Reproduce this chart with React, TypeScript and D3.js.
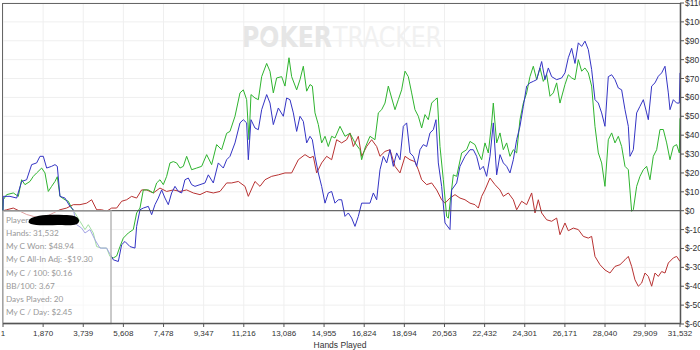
import React from 'react';
import * as d3 from 'd3';

const handTicks = [1, 1870, 3739, 5608, 7478, 9347, 11216, 13086, 14955, 16824, 18694, 20563, 22432, 24301, 26171, 28040, 29909, 31532];
const dollarTicks = [-60, -50, -40, -30, -20, -10, 0, 10, 20, 30, 40, 50, 60, 70, 80, 90, 100, 110];

// green: My C Won
const wonSeries: [number, number][] = [
  [1, 0], [15, 5.8], [171, 8.5], [481, 9.4], [714, 7.6], [869, 16.4], [1024, 13.8], [1257, 15.5], [1413, 18.2], [1568, 20],
  [1801, 22.6], [1956, 20], [2111, 10.2], [2266, 12.9], [2422, 15.5], [2530, 18], [2655, 7.6], [2887, 5.8], [3043, 5], [3198, 1.4],
  [3353, -1.2], [3586, -5.6], [3819, -10], [3974, -7.4], [4207, -11.8], [4362, -19], [4595, -19.8], [4828, -19.8], [4983, -24.2], [5139, -25],
  [5294, -24], [5449, -19], [5604, -14.5], [5837, -11.8], [6070, -10], [6225, -1.2], [6381, 1.4], [6536, 11], [6769, 11], [7002, 9.4],
  [7157, 14.7], [7312, 16.4], [7467, 13.8], [7623, 18.2], [7778, 25.3], [7933, 26], [8088, 25.3], [8244, 22.6], [8399, 23.5], [8554, 28.8],
  [8787, 21.7], [9020, 22.6], [9253, 23.5], [9486, 29.7], [9718, 24.4], [9951, 35], [10184, 32.3], [10417, 41], [10573, 42], [10806, 50],
  [11039, 62.4], [11194, 64], [11349, 58.8], [11458, 37.6], [11551, 61.5], [11737, 59.7], [11893, 58.8], [12048, 71], [12281, 78], [12436, 73.8],
  [12591, 62.4], [12746, 70.3], [12979, 71], [13135, 66], [13321, 81], [13445, 71], [13678, 64], [13833, 69.4], [13988, 76.5], [14144, 63.3],
  [14299, 66.8], [14408, 66], [14532, 51.8], [14687, 45.6], [14842, 35.9], [14998, 39.4], [15153, 34], [15308, 39.4], [15463, 38.5], [15696, 44.7],
  [15929, 39.4], [16162, 41], [16395, 35.9], [16628, 32.3], [16705, 27], [16861, 33.2], [17093, 39.4], [17326, 37.6], [17482, 51.8], [17637, 53.5],
  [17792, 57], [17947, 66], [18103, 59.7], [18258, 53.5], [18413, 58.8], [18568, 64], [18724, 73.9], [18879, 71], [19034, 62.4], [19189, 53.5],
  [19345, 50], [19500, 43.8], [19655, 50.9], [19810, 48.2], [19966, 57], [20121, 58.8], [20229, 59.7], [20354, 34], [20509, 16.4], [20664, -3],
  [20742, -4], [20974, 19], [21130, 18.2], [21362, 30.6], [21595, 32.3], [21751, 36.7], [21983, 35], [22139, 30.6], [22294, 27], [22449, 35.9],
  [22604, 30.6], [22760, 46.5], [22837, 57], [22993, 35.9], [23148, 41.2], [23303, 32.3], [23458, 35.9], [23614, 28.8], [23769, 32.3], [23924, 30.6],
  [24079, 48.2], [24235, 57], [24390, 62.4], [24545, 71], [24700, 76.5], [24856, 69.4], [25011, 75.6], [25166, 68.5], [25321, 72.1], [25477, 60.6],
  [25632, 62.4], [25787, 67.7], [25942, 57], [26175, 66.8], [26330, 72], [26486, 70.3], [26641, 69.4], [26796, 80], [26951, 73.9], [27107, 75.6],
  [27262, 73], [27417, 66], [27572, 44.7], [27728, 30.6], [27883, 25.3], [28038, 12.9], [28193, 37.6], [28349, 41.2], [28504, 35.9], [28659, 39.4],
  [28814, 34], [28970, 23.5], [29125, 21.7], [29280, -0.3], [29358, 0.5], [29513, 12.9], [29668, 18.2], [29824, 21.7], [29979, 23.5], [30134, 16.4],
  [30289, 28.8], [30445, 32.3], [30600, 43], [30755, 43], [30911, 35.9], [31066, 27], [31221, 34], [31376, 35], [31500, 30.6], [31532, 48.94],
];

// blue
const netSeries: [number, number][] = [
  [1, 0], [15, 7.6], [326, 7.6], [636, 6.7], [869, 15.5], [1102, 16.4], [1335, 24.4], [1568, 25.3], [1723, 28.8], [1878, 28.8],
  [2034, 22.6], [2266, 23.5], [2422, 24.4], [2530, 23.5], [2655, 7.6], [2887, 6.7], [3120, 2.3], [3276, 0.5], [3431, -7.4], [3664, -9.2],
  [3819, -11.8], [4052, -10], [4285, -15.4], [4518, -19.8], [4828, -19.8], [5139, -26], [5372, -26.9], [5527, -18], [5682, -16.3], [5915, -19],
  [6148, -19.8], [6225, -8.3], [6381, 0.5], [6536, 1.4], [6769, 2.3], [6924, -2.1], [7079, 3.2], [7234, 6.7], [7390, 11], [7545, 6.7],
  [7700, 3.2], [7855, 9.4], [8011, 12.9], [8166, 10.2], [8321, 9.4], [8476, 16.4], [8632, 17.3], [8787, 13.8], [8942, 12.9], [9175, 13.8],
  [9408, 14.7], [9563, 19], [9796, 14.7], [10029, 25.3], [10262, 22.6], [10417, 27], [10573, 28.8], [10806, 35.9], [11039, 46.5], [11194, 48.2],
  [11349, 46.5], [11427, 27], [11551, 48.2], [11737, 43.8], [11893, 42.9], [12048, 53.5], [12281, 61.5], [12436, 57], [12591, 45.6], [12824, 54.4],
  [13057, 50], [13212, 59.7], [13367, 58.8], [13523, 51.8], [13678, 42], [13833, 50], [13988, 47.3], [14144, 35.9], [14299, 39.4], [14408, 37.6],
  [14532, 28.8], [14687, 20], [14842, 12.9], [14998, 4], [15153, 9.4], [15308, 10.2], [15463, 4], [15619, 5.8], [15774, 5.8], [15929, -3],
  [16084, -1.2], [16240, -3.9], [16395, -8.3], [16550, -3], [16705, 4], [16861, 4], [17093, 4], [17249, 9.4], [17404, 5.8], [17559, 21.7],
  [17714, 28.8], [17870, 25.3], [18025, 32.3], [18180, 23.5], [18335, 30.6], [18491, 27], [18646, 44.7], [18801, 46.5], [18956, 30.6], [19112, 28.8],
  [19267, 23.5], [19422, 32.3], [19577, 35], [19733, 34], [19888, 41.2], [20043, 42.9], [20167, 48.2], [20276, 25.3], [20431, 12.9], [20587, -6.5],
  [20819, -10], [20897, 11], [21130, 14.7], [21285, 23.5], [21518, 28.8], [21751, 32.3], [21906, 32.3], [22061, 28.8], [22216, 21.7], [22372, 23.5],
  [22527, 18.2], [22682, 28.8], [22837, 46.5], [22993, 19], [23148, 29.7], [23303, 25.3], [23458, 23.5], [23614, 20], [23769, 27], [23924, 37.6],
  [24079, 44.7], [24235, 55.3], [24390, 66], [24545, 67.7], [24700, 68.5], [24856, 69.4], [25088, 79], [25244, 69.4], [25399, 75.6], [25554, 71],
  [25787, 69.4], [26020, 70.3], [26175, 73], [26330, 81], [26486, 86], [26641, 78], [26796, 88.9], [26951, 87], [27107, 89.8], [27262, 85.3],
  [27417, 74.7], [27572, 58.8], [27728, 57], [27883, 51.8], [28038, 44.7], [28193, 71], [28349, 72], [28504, 69.4], [28659, 65], [28814, 64],
  [28970, 53.5], [29125, 44.7], [29203, 28.8], [29358, 32.3], [29513, 51.8], [29668, 55.3], [29824, 58.8], [29979, 51.8], [30056, 48.2], [30212, 66],
  [30367, 67.7], [30522, 71.2], [30678, 73], [30833, 76.5], [30988, 62.4], [31066, 53.5], [31221, 58.8], [31376, 57], [31500, 57], [31532, 73],
];

// red: all-in adjusted
const allInSeries: [number, number][] = [
  [1, 0], [171, 0.5], [481, 1.4], [792, -0.3], [1102, -2], [1413, -3], [1723, -4], [2034, -3], [2344, -1.2], [2655, 0.5],
  [2965, 1.4], [3276, 3.2], [3586, 3.2], [3897, 4], [4130, 5.8], [4362, 0.5], [4595, 0.5], [4828, -0.3], [5061, 1.4], [5294, 1.4],
  [5527, 5], [5760, 5.8], [5992, 7.6], [6225, 6.7], [6458, 11], [6691, 11], [7002, 9.4], [7312, 12], [7623, 10.2], [7933, 11],
  [8244, 10.2], [8554, 11], [8865, 9.4], [9175, 8.5], [9486, 10.2], [9796, 9.4], [10107, 10.2], [10417, 14.7], [10651, 14.7], [10961, 15.5],
  [11272, 12.9], [11427, 7.6], [11737, 15.5], [11970, 12.9], [12203, 16.4], [12514, 18.2], [12824, 19], [13135, 20], [13445, 20], [13756, 27],
  [14066, 29.7], [14299, 28], [14454, 28.8], [14609, 20], [14842, 25.3], [15075, 28.8], [15308, 27], [15541, 37.6], [15774, 35.9], [16007, 37.6],
  [16162, 41.2], [16317, 34], [16550, 39.4], [16705, 28.8], [16938, 34], [17171, 37.6], [17404, 34], [17559, 28.8], [17792, 31.4], [18025, 32.3],
  [18258, 23.5], [18491, 20], [18724, 28.8], [18956, 27], [19189, 26], [19345, 21.7], [19500, 16.4], [19733, 13.8], [19966, 14.7], [20199, 11],
  [20431, 5.8], [20587, 4], [20819, 6.7], [21052, 8.5], [21285, 6.7], [21518, 5.8], [21751, 4], [21983, 3.2], [22139, 1.4], [22294, 7.6],
  [22449, 11], [22682, 17.3], [22915, 13.8], [23148, 11], [23303, 7.6], [23536, 9.4], [23769, 5.8], [23924, 0.5], [24157, 5], [24390, 3.2],
  [24623, 9.4], [24778, -1.2], [24933, 5.8], [25088, -1.2], [25321, -4.8], [25554, -5.6], [25787, -3.9], [25942, -12.7], [26175, -6.5], [26330, -10.6],
  [26563, -9.2], [26796, -10], [27029, -13.6], [27262, -14.5], [27417, -13.6], [27572, -24.2], [27805, -28.6], [28038, -31.4], [28271, -33], [28504, -29.5],
  [28737, -28.6], [28970, -26], [29125, -24.2], [29280, -29.5], [29435, -36.6], [29590, -40], [29746, -38.3], [29901, -33], [30056, -34.8], [30212, -40],
  [30367, -33], [30522, -34.8], [30678, -32.2], [30833, -33], [30988, -27.7], [31221, -25], [31376, -24.2], [31532, -26.9],
];

const statLines = [
  'Hands: 31,532',
  'My C Won: $48.94',
  'My C All-In Adj: -$19.30',
  'My C / 100: $0.16',
  'BB/100: 3.67',
  'Days Played: 20',
  'My C / Day: $2.45',
];

const fmtHands = d3.format(',');

export default function App() {
  const W = 700, H = 350;
  const left = 3, right = 680, top = 3, bottom = 324;
  const x = d3.scaleLinear().domain([1, 31532]).range([left, right]);
  const y = d3.scaleLinear().domain([-60, 110]).range([bottom, top]);
  const line = d3.line<[number, number]>().x(d => x(d[0])).y(d => y(d[1]));
  const boxRight = 111;
  const axisFont = '"Liberation Sans", Arial, sans-serif';

  return (
    <svg width={W} height={H} style={{ position: 'fixed', left: 0, top: 0, background: '#fff' }}>
      <rect x={0} y={0} width={W} height={H} fill="#fff" />
      {/* grid */}
      {handTicks.map(t => (
        <line key={'gx' + t} x1={x(t)} x2={x(t)} y1={top} y2={bottom} stroke="#efefef" strokeWidth={1} />
      ))}
      {dollarTicks.map(t => (
        <line key={'gy' + t} x1={left} x2={right} y1={y(t)} y2={y(t)} stroke="#efefef" strokeWidth={1} />
      ))}
      {/* watermark */}
      <text x={242} y={47} fontFamily='"DejaVu Sans", sans-serif' fontWeight="bold" fontSize={28} fill="#e6e6e6" textLength={90} lengthAdjust="spacingAndGlyphs">POKER</text>
      <text x={267} y={42} fontFamily='"DejaVu Sans", sans-serif' fontSize={13} fill="#ffffff" textAnchor="middle">♠</text>
      <text x={333} y={47} fontFamily='"DejaVu Sans", sans-serif' fontSize={28} fill="#f1f1f1" textLength={109} lengthAdjust="spacingAndGlyphs">TRACKER</text>
      {/* frame */}
      <line x1={left} x2={right} y1={top + 0.5} y2={top + 0.5} stroke="#666" />
      <line x1={left - 0.5} x2={left - 0.5} y1={top} y2={bottom} stroke="#666" />
      {/* series */}
      <path d={line(allInSeries) || ''} fill="none" stroke="#b83232" strokeWidth={1} />
      <path d={line(wonSeries) || ''} fill="none" stroke="#2fb42f" strokeWidth={1} />
      <path d={line(netSeries) || ''} fill="none" stroke="#3434c4" strokeWidth={1} />
      {/* zero line */}
      <line x1={left} x2={right} y1={y(0)} y2={y(0)} stroke="#444" strokeWidth={1} />
      {/* stats box */}
      <rect x={left} y={y(0) + 0.5} width={boxRight - left} height={bottom - y(0) - 1} fill="#fff" fillOpacity={0.55} stroke="#b8b8b8" strokeWidth={1.5} />
      <g fontFamily='Lato, "Open Sans", sans-serif' fontSize={8.2} fill="#999">
        <text x={6} y={223}>Player:</text>
        {statLines.map((s, i) => (
          <text key={s} x={6} y={236 + i * 13.2}>{s}</text>
        ))}
      </g>
      <path d="M30,219 C34,215 50,214 64,215 C72,215 78,216 79,220 C80,225 72,226 62,225 C50,225 36,226 31,224 C28,223 28,221 30,219 Z" fill="#000" />
      {/* right axis */}
      <line x1={right + 0.5} x2={right + 0.5} y1={top} y2={bottom} stroke="#555" strokeWidth={1.5} />
      {dollarTicks.map(t => (
        <g key={'ty' + t}>
          <line x1={right} x2={right + 4} y1={y(t)} y2={y(t)} stroke="#555" />
          <text x={right + 5} y={y(t)} dy="0.35em" fontFamily={axisFont} fontSize={8.5} fill="#333">{'$' + t}</text>
        </g>
      ))}
      {/* bottom axis */}
      <line x1={left} x2={right} y1={bottom - 0.5} y2={bottom - 0.5} stroke="#555" strokeWidth={1.5} />
      {handTicks.map(t => (
        <g key={'tx' + t}>
          <line x1={x(t)} x2={x(t)} y1={bottom} y2={bottom + 3} stroke="#555" />
          <text x={x(t)} y={336} textAnchor="middle" fontFamily={axisFont} fontSize={8} fill="#333">{fmtHands(t)}</text>
        </g>
      ))}
      <text x={340} y={348} textAnchor="middle" fontFamily={axisFont} fontSize={8.5} fill="#333">Hands Played</text>
    </svg>
  );
}
